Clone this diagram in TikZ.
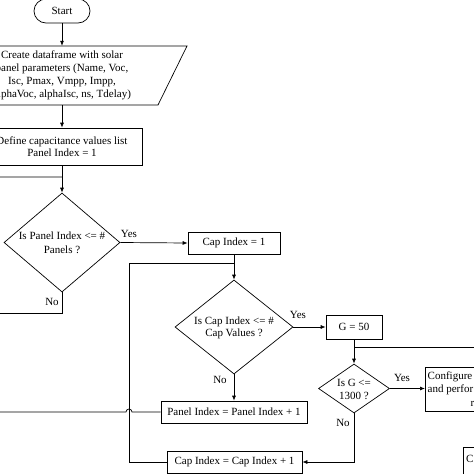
\documentclass[tikz,border=0pt]{standalone}
\usepackage{fontspec}
\setmainfont{Liberation Serif}
\usetikzlibrary{arrows.meta,shapes.geometric,calc}
\begin{document}
\begin{tikzpicture}[x=1pt,y=-1pt,
  every node/.style={font=\fontsize{11}{13}\selectfont, inner sep=0pt},
  box/.style={draw, line width=0.7pt, rectangle},
  dec/.style={draw, line width=0.7pt, diamond, inner sep=0pt},
  conn/.style={line width=0.7pt},
  arr/.style={conn, -{Latex[length=5pt,width=4pt]}},
  dtext/.style={align=center, font=\fontsize{11}{13}\selectfont}]
\useasboundingbox (0,0) rectangle (474,474);
\clip (0,0) rectangle (474,474);
\fill[white] (0,0) rectangle (474,474);

% nodes
\node[box, rounded corners=12pt, minimum width=56pt, minimum height=24pt] (start) at (62,11) {Start};
\node[minimum width=200pt, minimum height=59pt, align=center] (para) at (62,75.5)
  {Create dataframe with solar\\panel parameters (Name, Voc,\\Isc, Pmax, Vmpp, Impp,\\alphaVoc, alphaIsc, ns, Tdelay)};
\draw[conn] (-34,46) -- (187,46) -- (158,105) -- (-63,105) -- cycle;
\node[box, minimum width=160pt, minimum height=37pt, align=center, font=\fontsize{11}{12}\selectfont] (define) at (62,146.5)
  {Define capacitance values list\\Panel Index = 1};
\coordinate (j1) at (62,177);
\node[dec, minimum width=116pt, minimum height=99pt] (d1) at (62,242.5) {};
\node[dtext, font=\fontsize{11}{14.5}\selectfont] (d1t) at (62,243) {Is Panel Index <= \#\\Panels ?};
\node[box, minimum width=92pt, minimum height=22pt] (cap1) at (234,243) {Cap Index = 1};
\coordinate (j2) at (234,263);
\node[dec, minimum width=118pt, minimum height=94pt] (d2) at (234,327) {};
\node[dtext, font=\fontsize{11}{12}\selectfont] (d2t) at (234,328) {Is Cap Index <= \#\\Cap Values ?};
\node[box, minimum width=56pt, minimum height=24pt] (g50) at (354,327) {G = 50};
\coordinate (j3) at (354,347);
\node[dec, minimum width=71pt, minimum height=49pt] (d3) at (354,388.5) {};
\node[dtext] (d3t) at (354,389.5) {Is G <=\\1300 ?};
\node[box, anchor=west, minimum width=110pt, minimum height=44pt] (cfg) at (425,389) {};
\node[anchor=west, align=left, font=\fontsize{11}{13.5}\selectfont] (cfgt) at (427.5,389) {Configure\\and perfor\\\hspace*{43pt}r};
\node[box, minimum width=146pt, minimum height=22pt] (p1) at (234,412) {Panel Index = Panel Index + 1};
\node[box, minimum width=135pt, minimum height=22pt] (c2) at (234.5,462) {Cap Index = Cap Index + 1};
\node[box, anchor=north west, minimum width=60pt, minimum height=30pt] (cb) at (463,447) {};
\node[anchor=west] (cbt) at (466,459) {C};

% labels
\node (yes1) at (129,234) {Yes};
\node (no1) at (52,302) {No};
\node (yes2) at (298,315) {Yes};
\node (no2) at (220,380) {No};
\node (yes3) at (402,378) {Yes};
\node (no3) at (343,423) {No};

% connectors
\draw[arr] (start.south) -- (para.north);
\draw[arr] (para.south) -- (define.north);
\draw[arr] (define.south) -- (d1.north);
\draw[conn] (p1.west) -- (132,412) arc[start angle=0,end angle=180,radius=3pt] -- (-10,412) |- (j1);
\draw[arr] (d1.east) -- (cap1.west);
\draw[conn] (d1.south) |- (-10,313);
\draw[arr] (cap1.south) -- (d2.north);
\draw[conn] (c2.west) -| (129,263) -- (j2);
\draw[arr] (d2.east) -- (g50.west);
\draw[arr] (d2.south) -- (p1.north);
\draw[arr] (g50.south) -- (d3.north);
\draw[conn] (j3) -- (480,347);
\draw[arr] (d3.east) -- (d3.east -| cfg.west);
\draw[arr] (d3.south) |- (c2.east);
\end{tikzpicture}
\end{document}
